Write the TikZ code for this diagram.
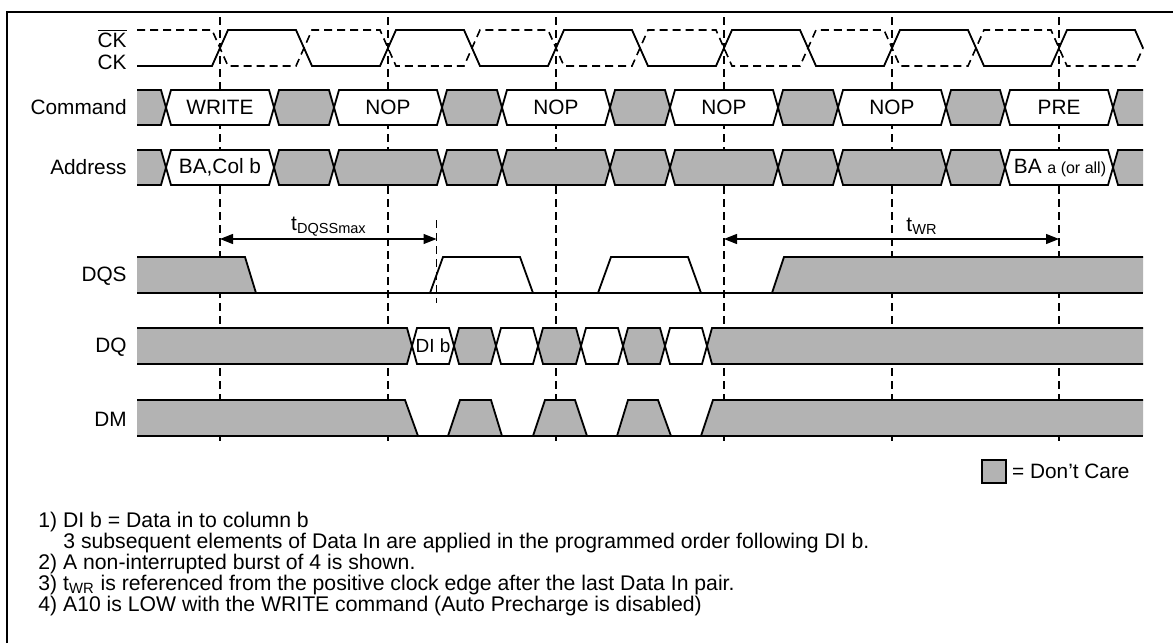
\documentclass[tikz,border=0pt]{standalone}
\usepackage{fontspec}
\setmainfont{Liberation Sans}
\usetikzlibrary{positioning}
\usetikzlibrary{arrows.meta}
\definecolor{dcgray}{RGB}{179,179,179}

% one bus cell: left crossing, right crossing, top, bottom, fill
\newcommand{\busseg}[5]{%
  \filldraw[sig, fill=#5] (#1,{(#3+#4)/2}) -- ({#1+5},#3) -- ({#2-5},#3) -- (#2,{(#3+#4)/2}) -- ({#2-5},#4) -- ({#1+5},#4) -- cycle;}

\begin{document}
\begin{tikzpicture}[x=0.5pt, y=-0.5pt, font=\fontsize{10.4}{12}\selectfont,
    sig/.style={line width=0.9pt},
    edgeline/.style={line width=0.8pt, dash pattern=on 4pt off 2.5pt},
    lbl/.style={anchor=east, inner sep=0pt},
    arr/.style={line width=0.6pt, {Triangle[length=6.5pt,width=5pt]}-{Triangle[length=6.5pt,width=5pt]}},
    note/.style={anchor=west, inner sep=0pt, font=\fontsize{10.6}{12}\selectfont}]
    \useasboundingbox (0,0) rectangle (1173,643);
    \draw[line width=1pt] (7,643) -- (7,12) -- (1173,12);

    % clock edges
    \foreach \e in {220,388,556,724,892,1059}
        \draw[edgeline] (\e,17) -- (\e,445);
    \draw[edgeline] (436.5,220) -- (436.5,303);

    % signal names
    \node[lbl] (ckn) at (127,38.5) {$\overline{\mbox{CK}}$};
    \node[lbl] (ck) at (127,62.5) {CK};
    \node[lbl] (cmd) at (127,107.5) {Command};
    \node[lbl] (addr) at (127,167.5) {Address};
    \node[lbl] (dqs) at (127,276) {DQS};
    \node[lbl] (dq) at (127,347) {DQ};
    \node[lbl] (dm) at (127,419) {DM};

    % CK and CK#
    \draw[sig] (137,66) foreach \e in {220,388,556,724,892} { -- ({\e-8},66) -- ({\e+8},30) -- ({\e+76},30) -- ({\e+92},66) } -- (1051,66) -- (1067,30) -- (1135,30) -- (1143,48);
    \draw[sig, edgeline] (137,30) foreach \e in {220,388,556,724,892} { -- ({\e-8},30) -- ({\e+8},66) -- ({\e+76},66) -- ({\e+92},30) } -- (1051,30) -- (1067,66) -- (1135,66) -- (1143,48);

    % Command
    \filldraw[sig, fill=dcgray] (137,90) -- (161,90) -- (166,107.5) -- (161,125) -- (137,125);
    \foreach \a/\b/\c in {166/274/white, 274/334/dcgray, 334/442/white, 442/502/dcgray, 502/610/white, 610/670/dcgray, 670/778/white, 778/838/dcgray, 838/946/white, 946/1005/dcgray, 1005/1113/white}
        \busseg{\a}{\b}{90}{125}{\c};
    \filldraw[sig, fill=dcgray] (1143,90) -- (1118,90) -- (1113,107.5) -- (1118,125) -- (1143,125);
    \node (cmd-write) at (220,107.5) {WRITE};
    \node (cmd-nop1) at (388,107.5) {NOP};
    \node (cmd-nop2) at (556,107.5) {NOP};
    \node (cmd-nop3) at (724,107.5) {NOP};
    \node (cmd-nop4) at (892,107.5) {NOP};
    \node (cmd-pre) at (1059,107.5) {PRE};

    % Address
    \filldraw[sig, fill=dcgray] (137,150) -- (161,150) -- (166,167.5) -- (161,185) -- (137,185);
    \foreach \a/\b/\c in {166/274/white, 274/334/dcgray, 334/442/dcgray, 442/502/dcgray, 502/610/dcgray, 610/670/dcgray, 670/778/dcgray, 778/838/dcgray, 838/946/dcgray, 946/1005/dcgray, 1005/1113/white}
        \busseg{\a}{\b}{150}{185}{\c};
    \filldraw[sig, fill=dcgray] (1143,150) -- (1118,150) -- (1113,167.5) -- (1118,185) -- (1143,185);
    \node (addr-col) at (220,167.5) {BA,Col b};
    \node[inner sep=0pt] (addr-ba) at (1060,167.5) {BA {\fontsize{8}{9}\selectfont a (or all)}};

    % timing arrows
    \coordinate (dqss-a) at (220,239);
    \coordinate (dqss-b) at (436.5,239);
    \coordinate (wr-a) at (724,239);
    \coordinate (wr-b) at (1059,239);
    \draw[arr] (dqss-a) -- (dqss-b);
    \draw[arr] (wr-a) -- (wr-b);
    \node (t-dqss) at (329,227) {t\textsubscript{DQSSmax}};
    \node (t-wr) at (922,226) {t\textsubscript{WR}};

    % DQS
    \fill[dcgray] (137,257) -- (245,257) -- (256,293) -- (137,293) -- cycle;
    \fill[dcgray] (772,293) -- (784,257) -- (1143,257) -- (1143,293) -- cycle;
    \draw[sig] (137,257) -- (245,257) -- (256,293) -- (430,293) -- (443,257) -- (520,257) -- (533,293) -- (598,293) -- (611,257) -- (688,257) -- (701,293) -- (772,293) -- (784,257) -- (1143,257);
    \draw[sig] (137,293) -- (1143,293);

    % DQ
    \filldraw[sig, fill=dcgray] (137,328) -- (407,328) -- (412,346) -- (407,364) -- (137,364);
    \foreach \a/\b/\c in {412/454/white, 454/496/dcgray, 496/538/white, 538/581/dcgray, 581/623/white, 623/665/dcgray, 665/707/white}
        \busseg{\a}{\b}{328}{364}{\c};
    \filldraw[sig, fill=dcgray] (1143,328) -- (712,328) -- (707,346) -- (712,364) -- (1143,364);
    \node[inner sep=0pt] (dq-dib) at (433,346) {\fontsize{9.5}{11}\selectfont DI b};

    % DM
    \fill[dcgray] (137,400) -- (405,400) -- (418,436) -- (137,436) -- cycle;
    \foreach \a/\b/\c/\d in {448/460/491/502, 533/545/575/587, 617/628/658/671}
        \filldraw[sig, fill=dcgray] (\a,436) -- (\b,400) -- (\c,400) -- (\d,436);
    \fill[dcgray] (701,436) -- (713,400) -- (1143,400) -- (1143,436) -- cycle;
    \draw[sig] (137,400) -- (405,400) -- (418,436);
    \draw[sig] (701,436) -- (713,400) -- (1143,400);
    \draw[sig] (137,436) -- (1143,436);

    % legend
    \node[draw, line width=0.8pt, fill=dcgray, minimum width=12pt, minimum height=11.5pt, inner sep=0pt] (dc-box) at (994,471.5) {};
    \node[right=2.5pt of dc-box, inner sep=0pt] (dc-text) {= Don't Care};

    % notes
    \node[note] (note1) at (38,522) {1) DI b = Data in to column b};
    \node[note] (note1b) at (63,543) {3 subsequent elements of Data In are applied in the programmed order following DI b.};
    \node[note] (note2) at (38,564) {2) A non-interrupted burst of 4 is shown.};
    \node[note] (note3) at (38,585) {3) t\textsubscript{WR} is referenced from the positive clock edge after the last Data In pair.};
    \node[note] (note4) at (38,606) {4) A10 is LOW with the WRITE command (Auto Precharge is disabled)};
\end{tikzpicture}
\end{document}
